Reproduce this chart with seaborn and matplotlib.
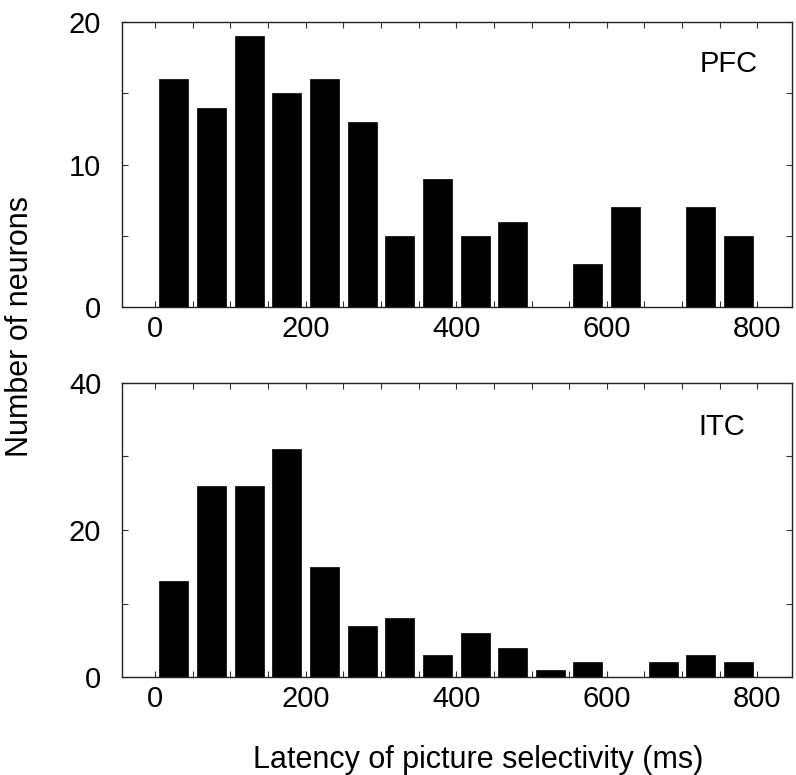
import numpy as np
import pandas as pd
import matplotlib
matplotlib.use("Agg")
import matplotlib.pyplot as plt
import seaborn as sns

# ---- data ----
bin_edges = list(range(0, 850, 50))
bin_centers = [25, 75, 125, 175, 225, 275, 325, 375, 425, 475, 525, 575, 625, 675, 725, 775]
pfc_counts = [16, 14, 19, 15, 16, 13, 5, 9, 5, 6, 0, 3, 7, 0, 7, 5]
itc_counts = [13, 26, 26, 31, 15, 7, 8, 3, 6, 4, 1, 2, 0, 2, 3, 2]
panel_labels = ["PFC", "ITC"]
x_ticklabels = [0, 200, 400, 600, 800]
pfc_yticks = [0, 10, 20]
itc_yticks = [0, 20, 40]
xlabel = "Latency of picture selectivity (ms)"
ylabel = "Number of neurons"

sns.set_theme(style="white")
plt.rcParams['font.family'] = ['Liberation Sans', 'DejaVu Sans']
plt.rcParams['text.color'] = 'black'
plt.rcParams['xtick.color'] = 'black'
plt.rcParams['ytick.color'] = 'black'

fig = plt.figure(figsize=(7.96, 7.75), dpi=100)
ax1 = fig.add_axes([122/796, 1-307/775, 670/796, 285/775])
ax2 = fig.add_axes([122/796, 1-677/775, 670/796, 294/775])

panels = [
    (ax1, pfc_counts, panel_labels[0], pfc_yticks, 20, 5, 0.949, 0.853),
    (ax2, itc_counts, panel_labels[1], itc_yticks, 40, 10, 0.930, 0.850),
]

for ax, counts, lab, yt, ymax, yminor, tx, ty in panels:
    df = pd.DataFrame({"latency": bin_centers, "count": counts})
    sns.histplot(data=df, x="latency", weights="count", bins=bin_edges,
                 shrink=0.77, color="black", edgecolor="black", alpha=1,
                 linewidth=0.5, ax=ax)
    ax.set_xlim(-44, 846)
    ax.set_ylim(0, ymax)
    ax.set_xticks(x_ticklabels)
    ax.set_xticks(bin_edges, minor=True)
    ax.set_yticks(yt)
    ax.set_yticks(np.arange(0, ymax + 1, yminor), minor=True)
    ax.set_xlabel("")
    ax.set_ylabel("")
    for s in ax.spines.values():
        s.set_visible(True)
        s.set_color("#222222")
        s.set_linewidth(1.0)
    ax.tick_params(axis="both", which="both", direction="in", top=True, right=True,
                   bottom=True, left=True, length=4, width=0.8, color="#333333",
                   labelcolor="black")
    ax.tick_params(axis="x", which="major", labelsize=21, pad=6)
    ax.tick_params(axis="y", which="major", labelsize=21, pad=15)
    ax.text(tx, ty, lab, transform=ax.transAxes,
            ha="right", va="center", fontsize=21, color="black")

fig.text(478/796, 1-768/775, xlabel, ha="center", va="baseline", fontsize=22, color="black")
fig.text(20/796, 1-327/775, ylabel, ha="center", va="center", rotation=90, fontsize=22, color="black")

fig.savefig("out.png", dpi=100, facecolor="white")
